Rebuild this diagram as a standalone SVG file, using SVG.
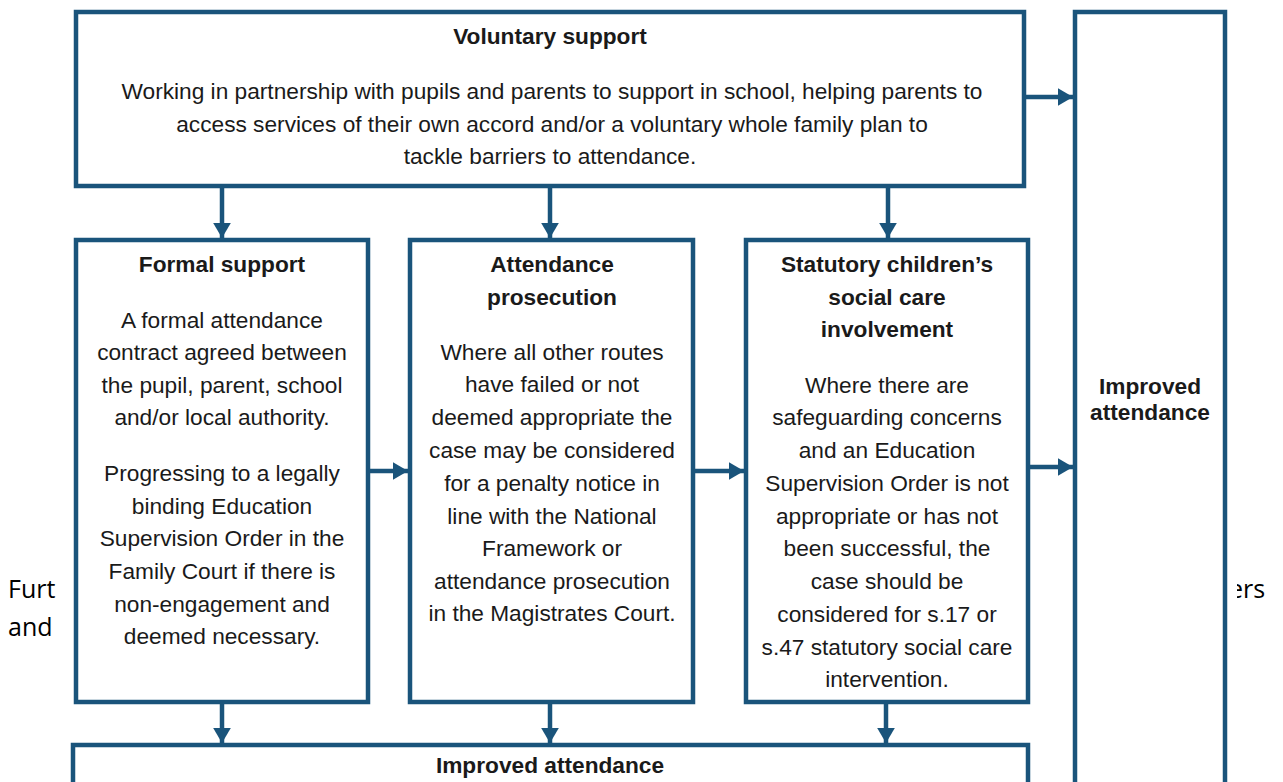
<svg xmlns="http://www.w3.org/2000/svg" width="1283" height="782" viewBox="0 0 1283 782">
<style>
.box{fill:#fff;stroke:#1a547b;stroke-width:4.5}
.t{font-family:"Liberation Sans",Arial,sans-serif;font-size:22.7px;fill:#1a1a1a;text-anchor:middle}
.b{font-weight:bold}
.bg{font-family:"Open Sans","Liberation Sans",sans-serif;font-size:25px;fill:#000}
.c{stroke:#1a547b;stroke-width:4.5;fill:none}
</style>
<defs>
<marker id="ah" markerWidth="4" markerHeight="4" refX="3.4" refY="2" orient="auto" markerUnits="strokeWidth">
<path d="M0,0 L3.4,2 L0,4 Z" fill="#1a547b"/>
</marker>
</defs>
<rect width="1283" height="782" fill="#fff"/>
<text class="bg" x="8" y="598">Furt</text>
<text class="bg" x="8" y="636">and</text>
<text class="bg" x="1229" y="598">ers</text>
<rect x="1228" y="570" width="9" height="35" fill="#fff"/>
<g id="voluntary">
<rect class="box" x="76" y="12" width="948" height="174"/>
<text class="t b" x="550" y="44">Voluntary support</text>
<text class="t" x="552" y="99">Working in partnership with pupils and parents to support in school, helping parents to</text>
<text class="t" x="552" y="132">access services of their own accord and/or a voluntary whole family plan to</text>
<text class="t" x="550" y="164">tackle barriers to attendance.</text>
</g>
<g id="improved-right">
<rect class="box" x="1075" y="12" width="150" height="800"/>
<text class="t b" x="1150" y="394">Improved</text>
<text class="t b" x="1150" y="420">attendance</text>
</g>
<g id="formal">
<rect class="box" x="76" y="240" width="292" height="462"/>
<text class="t b" x="222" y="272">Formal support</text>
<text class="t" x="222" y="328">A formal attendance</text>
<text class="t" x="222" y="360">contract agreed between</text>
<text class="t" x="222" y="393">the pupil, parent, school</text>
<text class="t" x="222" y="425">and/or local authority.</text>
<text class="t" x="222" y="481">Progressing to a legally</text>
<text class="t" x="222" y="514">binding Education</text>
<text class="t" x="222" y="546">Supervision Order in the</text>
<text class="t" x="222" y="579">Family Court if there is</text>
<text class="t" x="222" y="612">non-engagement and</text>
<text class="t" x="222" y="644">deemed necessary.</text>
</g>
<g id="prosecution">
<rect class="box" x="410" y="240" width="283" height="462"/>
<text class="t b" x="552" y="272">Attendance</text>
<text class="t b" x="552" y="305">prosecution</text>
<text class="t" x="552" y="360">Where all other routes</text>
<text class="t" x="552" y="392">have failed or not</text>
<text class="t" x="552" y="425">deemed appropriate the</text>
<text class="t" x="552" y="458">case may be considered</text>
<text class="t" x="552" y="491">for a penalty notice in</text>
<text class="t" x="552" y="524">line with the National</text>
<text class="t" x="552" y="556">Framework or</text>
<text class="t" x="552" y="589">attendance prosecution</text>
<text class="t" x="552" y="621">in the Magistrates Court.</text>
</g>
<g id="statutory">
<rect class="box" x="746" y="240" width="282" height="462"/>
<text class="t b" x="887" y="272">Statutory children’s</text>
<text class="t b" x="887" y="305">social care</text>
<text class="t b" x="887" y="337">involvement</text>
<text class="t" x="887" y="393">Where there are</text>
<text class="t" x="887" y="425">safeguarding concerns</text>
<text class="t" x="887" y="458">and an Education</text>
<text class="t" x="887" y="491">Supervision Order is not</text>
<text class="t" x="887" y="524">appropriate or has not</text>
<text class="t" x="887" y="556">been successful, the</text>
<text class="t" x="887" y="589">case should be</text>
<text class="t" x="887" y="622">considered for s.17 or</text>
<text class="t" x="887" y="655">s.47 statutory social care</text>
<text class="t" x="887" y="687">intervention.</text>
</g>
<g id="improved-bottom">
<rect class="box" x="73" y="745" width="955" height="80"/>
<text class="t b" x="550" y="773">Improved attendance</text>
</g>
<g id="connectors">
<line class="c" x1="1026" y1="97" x2="1073" y2="97" marker-end="url(#ah)"/>
<line class="c" x1="222" y1="188" x2="222" y2="238" marker-end="url(#ah)"/>
<line class="c" x1="550" y1="188" x2="550" y2="238" marker-end="url(#ah)"/>
<line class="c" x1="888" y1="188" x2="888" y2="238" marker-end="url(#ah)"/>
<line class="c" x1="370" y1="471" x2="408" y2="471" marker-end="url(#ah)"/>
<line class="c" x1="695" y1="471" x2="744" y2="471" marker-end="url(#ah)"/>
<line class="c" x1="1030" y1="467" x2="1073" y2="467" marker-end="url(#ah)"/>
<line class="c" x1="222" y1="704" x2="222" y2="743" marker-end="url(#ah)"/>
<line class="c" x1="550" y1="704" x2="550" y2="743" marker-end="url(#ah)"/>
<line class="c" x1="886" y1="704" x2="886" y2="743" marker-end="url(#ah)"/>
</g>
</svg>
